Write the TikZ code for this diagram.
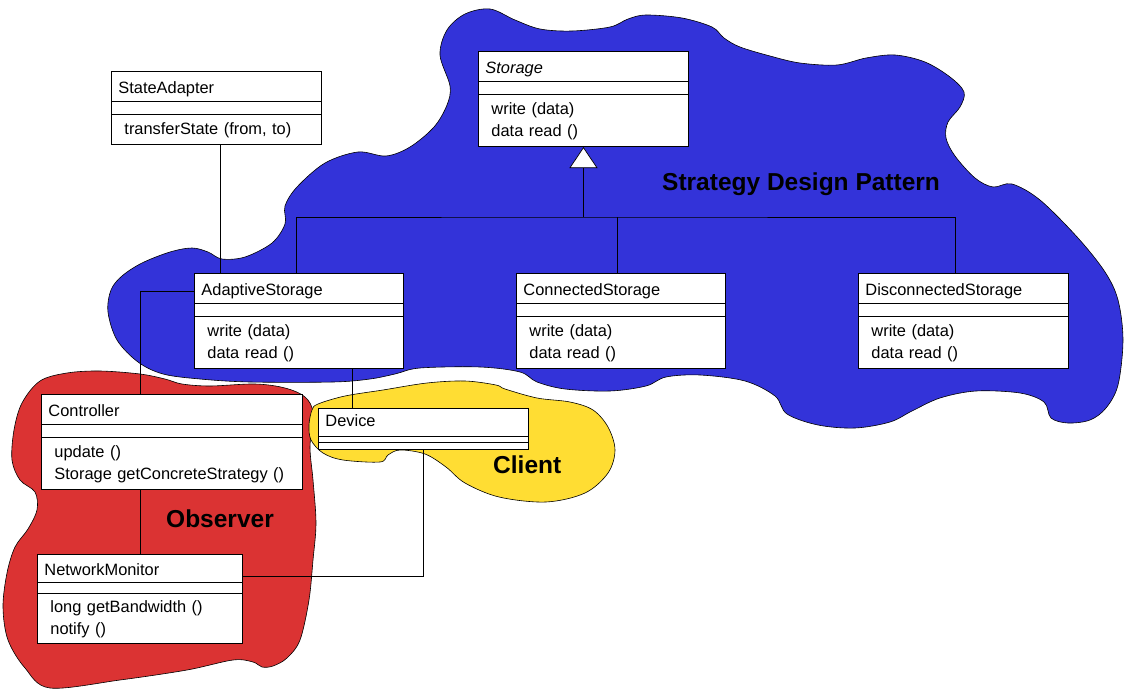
\documentclass[tikz,border=0pt]{standalone}
\usepackage{fontspec}
\setmainfont{Liberation Sans}
\usepackage{tikz}
\usetikzlibrary{arrows.meta,positioning,shapes.multipart}

\definecolor{blobblue}{RGB}{51,51,217}
\definecolor{blobred}{RGB}{219,51,51}
\definecolor{blobyellow}{RGB}{255,221,51}

\newcommand{\umlfont}{\fontsize{16.4}{20.6}\selectfont}
\newcommand{\namestrut}{\rule[-3pt]{0pt}{21pt}}
\newcommand{\opstrut}{\rule[-5.5pt]{0pt}{21pt}}
\newcommand{\nofields}{\rule{0pt}{4pt}}
\newcommand{\umlop}[1]{\hspace*{6pt}#1}

\tikzset{
  umlclass/.style={draw, line width=0.9pt, fill=white, anchor=north west,
    rectangle split, rectangle split parts=3, align=left,
    text width=196pt, inner xsep=7pt, inner ysep=4pt,
    font=\umlfont},
  blob/.style={draw=black, line width=0.6pt},
  link/.style={draw, line width=0.7pt},
  patternlbl/.style={font=\fontsize{24.5}{29}\selectfont\bfseries, anchor=base west, inner sep=0pt},
}

\begin{document}
\begin{tikzpicture}[x=1pt, y=-1pt]
    \useasboundingbox (0,0) rectangle (1124,690);

    % strategy blob
    \draw[blob, fill=blobblue] plot[smooth cycle, tension=0.55] coordinates {
        (440,55) (447,30) (465,14) (490,9) (515,20) (540,29) (572,31) (610,27)
        (628,19) (646,15) (682,18) (712,27) (724,38) (740,47) (770,56) (800,63)
        (837,65) (866,58) (895,55) (925,62) (950,77) (964,92) (960,107) (948,122)
        (946,138) (955,156) (975,178) (993,187) (1012,184) (1040,200) (1078,238)
        (1105,272) (1118,300) (1123,340) (1118,385) (1106,408) (1090,420) (1068,423)
        (1051,418) (1044,402) (1020,393) (976,391) (940,398) (912,411) (890,422)
        (855,428) (818,425) (787,414) (775,396) (745,381) (700,375) (666,377)
        (646,386) (610,391) (565,389) (537,382) (520,372) (480,367) (420,368)
        (395,374) (370,379) (333,382) (250,382) (200,379) (163,374) (138,362)
        (117,340) (108,312) (111,290) (122,276) (142,263) (170,252) (192,248)
        (208,252) (222,259) (245,257) (272,243) (285,224) (285,206) (297,187)
        (325,163) (358,152) (386,156) (410,147) (434,127) (447,105) (450,86)};

    % observer blob
    \draw[blob, fill=blobred] plot[smooth cycle, tension=0.55] coordinates {
        (22,403) (40,381) (67,373) (100,371) (140,374) (165,379) (182,384)
        (210,386) (255,384) (285,388) (305,397) (313,413) (310,447) (313,480)
        (316,523) (313,560) (309,600) (300,640) (287,658) (273,666) (262,667)
        (253,662) (233,660) (187,670) (120,680) (50,688) (25,668) (8,640)
        (3,607) (7,573) (15,547) (28,529) (37,510) (35,492) (20,480) (12,460)
        (14,430)};

    % client blob
    \draw[blob, fill=blobyellow] plot[smooth cycle, tension=0.55] coordinates {
        (318,404) (345,396) (383,390) (427,383) (465,381) (496,385) (505,389)
        (537,398) (570,402) (593,410) (608,427) (615,450) (608,473) (585,493)
        (546,502) (499,497) (465,483) (446,467) (425,454) (400,450) (388,455)
        (380,462) (343,460) (323,453) (311,440) (309,425) (312,410)};

    % classes
    \node[umlclass] (state) at (111,71)
        {\namestrut StateAdapter \nodepart{two}\nofields
         \nodepart{three}\opstrut\umlop{transferState (from, to)}};
    \node[umlclass] (storage) at (478,51)
        {\namestrut\textit{Storage} \nodepart{two}\nofields \nodepart{three}
         \opstrut\umlop{write (data)}\\\umlop{data read ()}\opstrut};
    \node[umlclass, text width=195pt] (adaptive) at (194,273)
        {\namestrut AdaptiveStorage \nodepart{two}\nofields \nodepart{three}
         \opstrut\umlop{write (data)}\\\umlop{data read ()}\opstrut};
    \node[umlclass, text width=195pt] (connected) at (516,273)
        {\namestrut ConnectedStorage \nodepart{two}\nofields \nodepart{three}
         \opstrut\umlop{write (data)}\\\umlop{data read ()}\opstrut};
    \node[umlclass] (disconnected) at (858,273)
        {\namestrut DisconnectedStorage \nodepart{two}\nofields \nodepart{three}
         \opstrut\umlop{write (data)}\\\umlop{data read ()}\opstrut};
    \node[umlclass, text width=247pt] (controller) at (41,394)
        {\namestrut Controller \nodepart{two}\nofields \nodepart{three}
         \opstrut\umlop{update ()}\\\umlop{Storage getConcreteStrategy ()}\opstrut};
    \node[umlclass, inner ysep=3pt] (device) at (318,408)
        {\strut Device \nodepart{two} \nodepart{three}};
    \node[umlclass, text width=191pt, inner ysep=3pt] (netmon) at (37,554)
        {\namestrut NetworkMonitor \nodepart{two}\nofields \nodepart{three}
         \opstrut\umlop{long getBandwidth ()}\\\umlop{notify ()}\opstrut};

    % inheritance
    \coordinate (bus) at (storage.south |- 0,217);
    \draw[link, -{Triangle[fill=white, length=21pt, width=28pt]}] (bus) -- (storage.south);
    \draw[link] ([xshift=-3pt]adaptive.north) |- (bus) -| ([xshift=-8pt]disconnected.north);
    \draw[link] ([xshift=-4pt]connected.north) -- ([xshift=-4pt]connected.north |- bus);

    % associations
    \draw[link] ([xshift=4pt]state.south) -- ([xshift=4pt]state.south |- adaptive.north);
    \draw[link] ([yshift=-18pt]adaptive.north west) -| (controller.north -| netmon.north);
    \draw[link] (controller.south -| netmon.north) -- (netmon.north);
    \draw[link] ([xshift=-71pt]device.north) -- ([xshift=-71pt]device.north |- adaptive.south);
    \draw[link] (device.south) |- ([yshift=-22pt]netmon.north east);

    % pattern names
    \node[patternlbl] (strategylbl) at (662,190) {Strategy Design Pattern};
    \node[patternlbl] (observerlbl) at (166,527) {Observer};
    \node[patternlbl] (clientlbl) at (493,473) {Client};
\end{tikzpicture}
\end{document}
